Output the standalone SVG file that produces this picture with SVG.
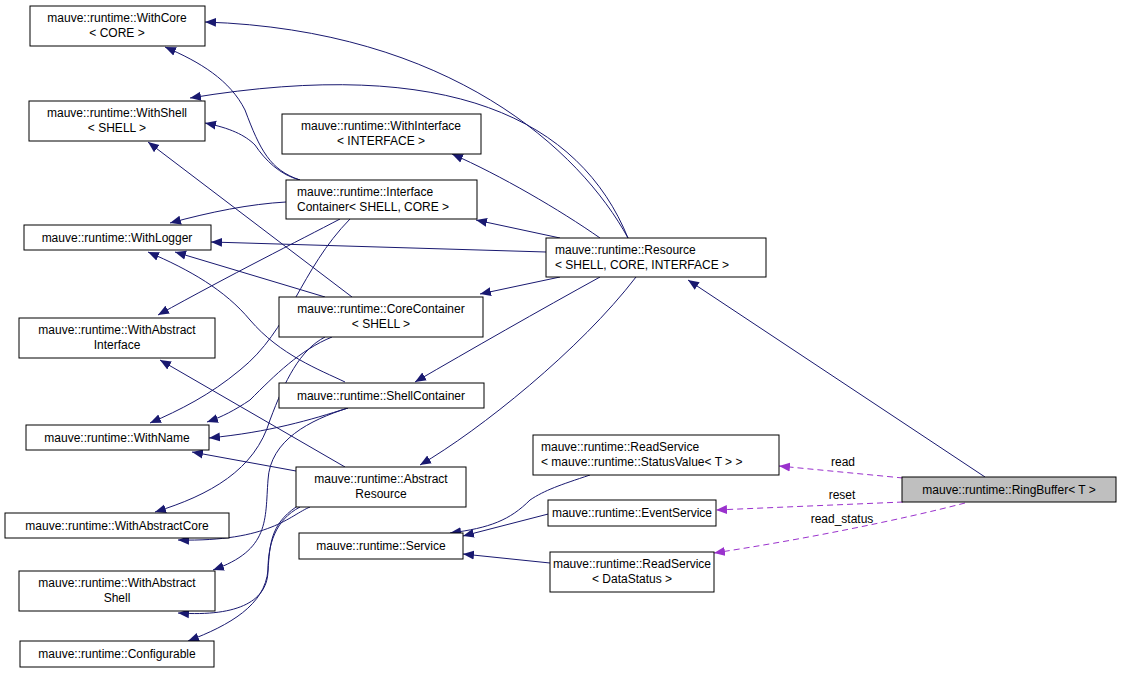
<svg xmlns="http://www.w3.org/2000/svg" width="1121" height="673" viewBox="0 0 1121 673">
<style>
.n rect{fill:#fff;stroke:#000;stroke-width:1}
.n.g rect{fill:#bfbfbf}
text{font-family:"Liberation Sans",Arial,sans-serif;font-size:12px;fill:#000;text-anchor:middle}
.e path{fill:none;stroke:#191970;stroke-width:1}
.e path.u{stroke:#9a32cd;stroke-dasharray:6,4}
</style>
<defs>
<marker id="a" markerUnits="userSpaceOnUse" markerWidth="12" markerHeight="10" refX="11" refY="5" orient="auto"><path d="M0,0.5 L11,5 L0,9.5 Z" fill="#191970"/></marker>
<marker id="p" markerUnits="userSpaceOnUse" markerWidth="12" markerHeight="10" refX="11" refY="5" orient="auto"><path d="M0,0.5 L11,5 L0,9.5 Z" fill="#9a32cd"/></marker>
</defs>
<rect width="1121" height="673" fill="#fff"/>
<g class="e">
<path marker-end="url(#a)" d="M628,238 C580,150 450,30 205,22"/>
<path marker-end="url(#a)" d="M628,238 C580,120 450,55 190,98"/>
<path marker-end="url(#a)" d="M600,238 C560,210 500,175 452,154"/>
<path marker-end="url(#a)" d="M560,238 L476,220"/>
<path marker-end="url(#a)" d="M546,252 L211,242"/>
<path marker-end="url(#a)" d="M560,277 L480,294"/>
<path marker-end="url(#a)" d="M600,277 C540,310 470,350 415,382"/>
<path marker-end="url(#a)" d="M636,277 C580,350 480,430 420,465"/>
<path marker-end="url(#a)" d="M985,477 L688,280"/>
<path marker-end="url(#a)" d="M300,180 C270,170 260,150 245,110 C230,80 200,62 165,47"/>
<path marker-end="url(#a)" d="M300,180 C280,175 265,160 255,145 C245,135 230,128 205,123"/>
<path marker-end="url(#a)" d="M286,202 C250,204 210,212 170,223"/>
<path marker-end="url(#a)" d="M340,219 C300,240 230,275 158,315"/>
<path marker-end="url(#a)" d="M350,219 C300,270 290,330 240,370 C210,395 180,410 150,423"/>
<path marker-end="url(#a)" d="M352,297 L148,142"/>
<path marker-end="url(#a)" d="M325,297 L175,252"/>
<path marker-end="url(#a)" d="M332,337 C300,350 275,375 250,400 C235,410 222,417 207,422"/>
<path marker-end="url(#a)" d="M325,337 C300,350 285,380 270,420 C255,470 210,495 155,512"/>
<path marker-end="url(#a)" d="M345,382 C320,370 280,355 250,320 C225,290 190,270 148,252"/>
<path marker-end="url(#a)" d="M348,408 C310,420 270,432 209,438"/>
<path marker-end="url(#a)" d="M348,408 C310,420 270,440 268,480 C265,520 270,550 213,570"/>
<path marker-end="url(#a)" d="M345,467 L160,360"/>
<path marker-end="url(#a)" d="M296,471 L192,452"/>
<path marker-end="url(#a)" d="M310,507 C290,515 270,542 178,540"/>
<path marker-end="url(#a)" d="M300,507 C275,520 268,545 268,570 C268,600 240,617 178,613"/>
<path marker-end="url(#a)" d="M296,507 C270,525 270,545 268,570 C265,605 230,625 188,641"/>
<path marker-end="url(#a)" d="M590,475 C560,485 545,490 530,500 C510,520 490,528 450,533"/>
<path marker-end="url(#a)" d="M556,512 L463,536"/>
<path marker-end="url(#a)" d="M550,563 L463,554"/>
<path class="u" marker-end="url(#p)" d="M903,478 L779,466"/>
<path class="u" marker-end="url(#p)" d="M903,502 L716,510"/>
<path class="u" marker-end="url(#p)" d="M965,503 C900,520 800,540 714,553"/>
<text x="843" y="466">read</text>
<text x="842" y="499">reset</text>
<text x="842" y="523">read_status</text>
</g>
<g class="n" id="withcore"><rect x="30" y="6" width="175" height="40"/><text x="117" y="22">mauve::runtime::WithCore</text><text x="117" y="37">&lt; CORE &gt;</text></g>
<g class="n" id="withshell"><rect x="29" y="101" width="176" height="40"/><text x="117" y="117">mauve::runtime::WithShell</text><text x="117" y="132">&lt; SHELL &gt;</text></g>
<g class="n" id="withinterface"><rect x="282" y="114" width="199" height="40"/><text x="381" y="130">mauve::runtime::WithInterface</text><text x="381" y="145">&lt; INTERFACE &gt;</text></g>
<g class="n" id="ifcontainer"><rect x="286" y="180" width="191" height="39"/><text x="297" y="196" style="text-anchor:start">mauve::runtime::Interface</text><text x="297" y="211" style="text-anchor:start">Container&lt; SHELL, CORE &gt;</text></g>
<g class="n" id="withlogger"><rect x="24" y="225" width="187" height="25"/><text x="117" y="242">mauve::runtime::WithLogger</text></g>
<g class="n" id="resource"><rect x="546" y="238" width="220" height="39"/><text x="555" y="254" style="text-anchor:start">mauve::runtime::Resource</text><text x="555" y="269" style="text-anchor:start">&lt; SHELL, CORE, INTERFACE &gt;</text></g>
<g class="n" id="corecontainer"><rect x="279" y="297" width="204" height="40"/><text x="381" y="313">mauve::runtime::CoreContainer</text><text x="381" y="328">&lt; SHELL &gt;</text></g>
<g class="n" id="withabsif"><rect x="19" y="318" width="196" height="40"/><text x="117" y="334">mauve::runtime::WithAbstract</text><text x="117" y="349">Interface</text></g>
<g class="n" id="shellcontainer"><rect x="279" y="383" width="205" height="25"/><text x="381" y="400">mauve::runtime::ShellContainer</text></g>
<g class="n" id="withname"><rect x="26" y="425" width="183" height="25"/><text x="117" y="442">mauve::runtime::WithName</text></g>
<g class="n" id="rsstatus"><rect x="533" y="435" width="246" height="40"/><text x="541" y="451" style="text-anchor:start">mauve::runtime::ReadService</text><text x="541" y="466" style="text-anchor:start">&lt; mauve::runtime::StatusValue&lt; T &gt; &gt;</text></g>
<g class="n" id="absresource"><rect x="296" y="467" width="170" height="40"/><text x="381" y="483">mauve::runtime::Abstract</text><text x="381" y="498">Resource</text></g>
<g class="n g" id="ringbuffer"><rect x="902" y="477" width="214" height="25"/><text x="1009" y="494">mauve::runtime::RingBuffer&lt; T &gt;</text></g>
<g class="n" id="eventservice"><rect x="548" y="500" width="168" height="26"/><text x="632" y="517">mauve::runtime::EventService</text></g>
<g class="n" id="withabscore"><rect x="5" y="513" width="224" height="25"/><text x="117" y="530">mauve::runtime::WithAbstractCore</text></g>
<g class="n" id="service"><rect x="299" y="533" width="164" height="26"/><text x="381" y="550">mauve::runtime::Service</text></g>
<g class="n" id="rsdata"><rect x="550" y="552" width="164" height="40"/><text x="632" y="568">mauve::runtime::ReadService</text><text x="632" y="583">&lt; DataStatus &gt;</text></g>
<g class="n" id="withabsshell"><rect x="19" y="571" width="196" height="40"/><text x="117" y="587">mauve::runtime::WithAbstract</text><text x="117" y="602">Shell</text></g>
<g class="n" id="configurable"><rect x="20" y="641" width="194" height="26"/><text x="117" y="658">mauve::runtime::Configurable</text></g>
</svg>
